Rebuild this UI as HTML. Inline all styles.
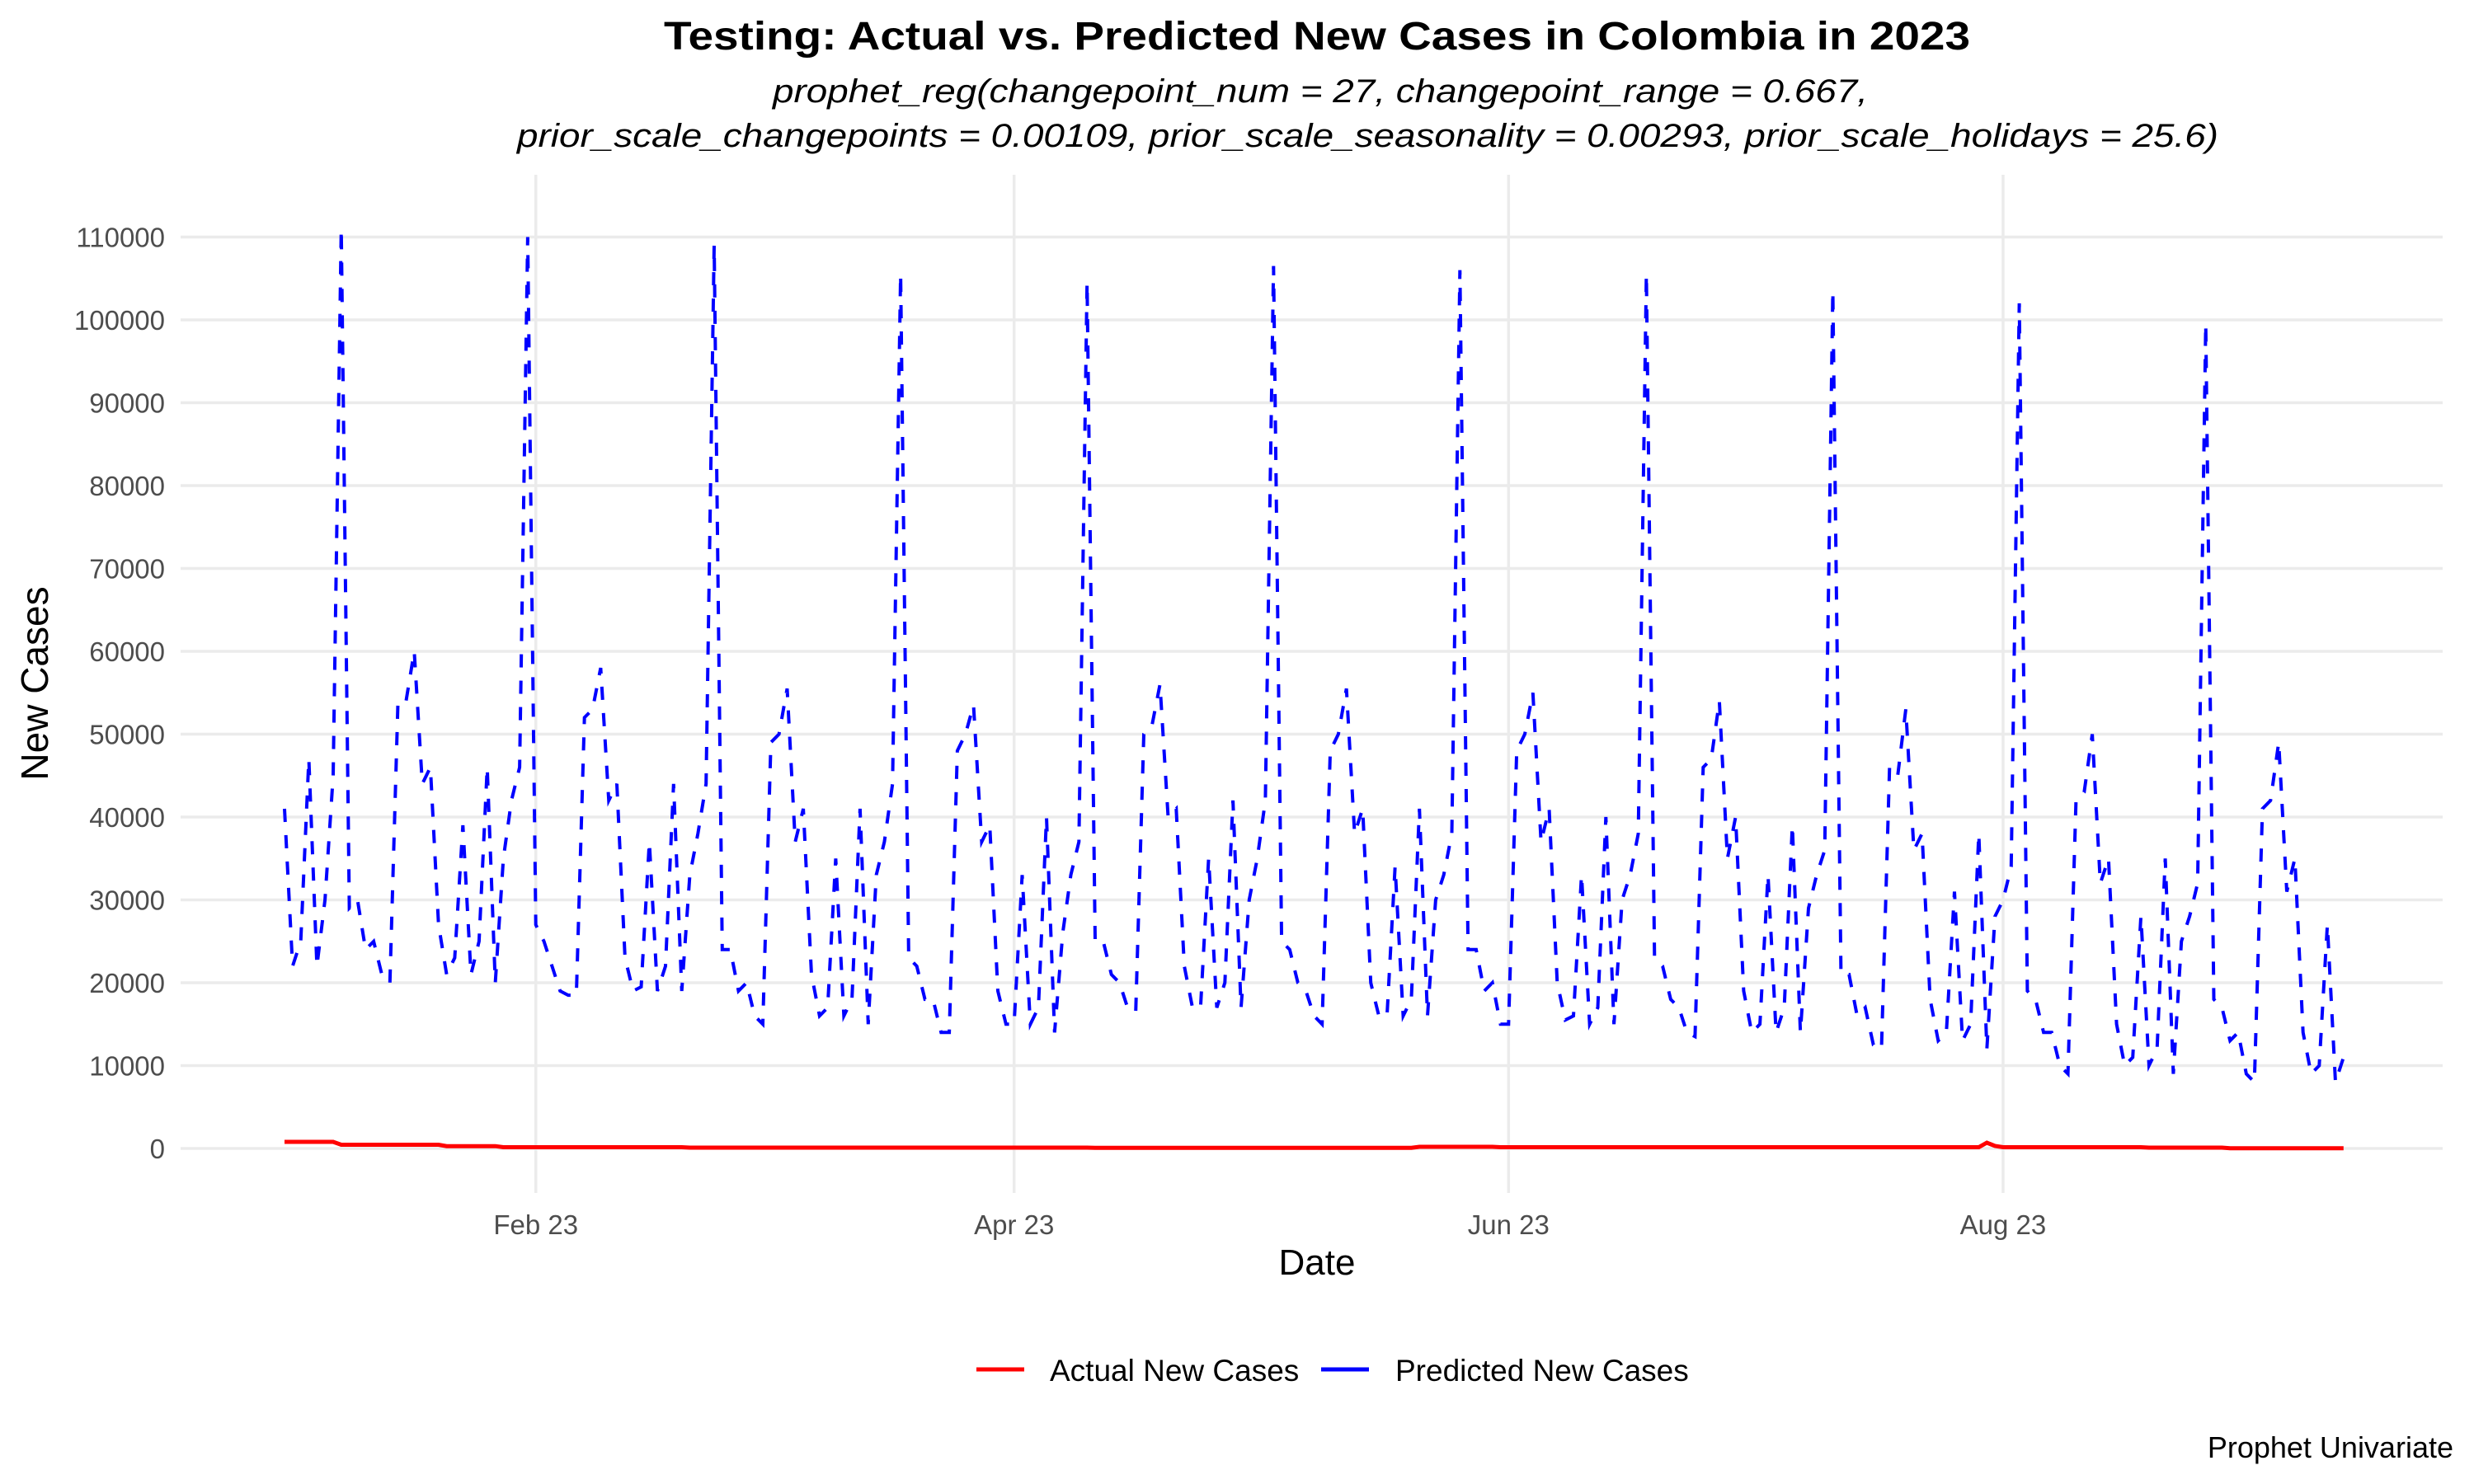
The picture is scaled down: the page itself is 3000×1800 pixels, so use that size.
<!DOCTYPE html>
<html><head><meta charset="utf-8"><style>
html,body{margin:0;padding:0;background:#fff;}
svg{display:block;font-family:"Liberation Sans",sans-serif;}
</style></head><body>
<svg id="chart" width="3000" height="1800" viewBox="0 0 3000 1800" xmlns="http://www.w3.org/2000/svg">
<rect width="3000" height="1800" fill="#fff"/>
<g id="grid"></g>
<g id="series"></g>
<g id="axes"></g>
<text x="1597" y="60" text-anchor="middle" font-size="48" font-weight="bold" fill="#000" textLength="1584" lengthAdjust="spacingAndGlyphs">Testing: Actual vs. Predicted New Cases in Colombia in 2023</text>
<text x="937" y="124" font-size="40" font-style="italic" fill="#000" textLength="1328" lengthAdjust="spacingAndGlyphs">prophet_reg(changepoint_num = 27, changepoint_range = 0.667,</text>
<text x="627" y="178" font-size="40" font-style="italic" fill="#000" textLength="2063" lengthAdjust="spacingAndGlyphs">prior_scale_changepoints = 0.00109, prior_scale_seasonality = 0.00293, prior_scale_holidays = 25.6)</text>
<text x="1597" y="1546" text-anchor="middle" font-size="44" fill="#000">Date</text>
<text transform="translate(58,829) rotate(-90)" text-anchor="middle" font-size="46" fill="#000">New Cases</text>
<g>
<g>
<line x1="1184" y1="1661" x2="1242" y2="1661" stroke="#ff0000" stroke-width="5"/>
<text x="1273" y="1675" font-size="37" fill="#000">Actual New Cases</text>
</g>
<g>
<line x1="1602" y1="1661" x2="1660" y2="1661" stroke="#0000ff" stroke-width="5"/>
<text x="1692" y="1675" font-size="37" fill="#000">Predicted New Cases</text>
</g>
</g>
<text x="2975" y="1768" text-anchor="end" font-size="36" fill="#000">Prophet Univariate</text>
</svg>
<script>
const yTicks = [0,10000,20000,30000,40000,50000,60000,70000,80000,90000,100000,110000];
const xTickLabels = ["Feb 23","Apr 23","Jun 23","Aug 23"];
const xTickDays = [31,90,151,212];
const predicted = [
41000,22000,25000,47000,22000,30000,45000,
111000,29000,30000,24000,25000,21000,20000,54000,54000,60000,44000,46000,27000,21000,23000,39000,21000,25000,46000,20000,35000,42000,46000,
110000,27000,25000,22000,19000,18500,18500,52000,53000,58000,42000,44000,23000,19000,19500,37000,19000,22000,44000,19000,33000,38000,44000,
109000,24000,24000,19000,20000,16000,15000,49000,50000,55500,37000,41000,21000,16000,17000,35000,16000,18000,41000,15000,33000,37000,44000,
105500,23000,22000,18000,18000,14000,14000,48000,50000,53500,37000,39000,19000,15000,15000,33000,15000,17000,40000,14000,26000,33000,37000,
104500,25000,25000,21000,20000,17000,16500,50000,51000,56000,40000,41000,22000,17000,17000,35000,17000,20000,42000,17000,30000,35000,42000,
106500,25000,24000,20000,19000,16000,15000,48000,50000,55500,38000,41000,20000,16000,16000,34000,16000,18000,41000,16000,30000,33000,38000,
106000,24000,24000,19000,20000,15000,15000,48000,50000,55000,37000,41000,20000,15500,16000,33000,15000,17000,40000,15000,30000,33000,38000,
105500,23000,22000,18000,17000,14000,13500,46000,47000,54000,35000,40000,19000,14000,15000,33000,14000,17000,39000,14000,29000,33000,36000,
103500,21000,21000,16000,17000,12500,12000,46000,45000,53000,36000,38000,18000,13000,14000,31000,13000,15000,38000,12000,28000,30000,34000,
102000,19000,18000,14000,14000,10000,9000,42000,43000,50000,32000,35000,15000,10000,11000,28000,10000,12000,35000,9000,25000,28000,32000,
99500,18000,17000,13000,14000,9000,8000,41000,42000,49000,31000,35000,14000,9000,10000,27000,8000,11000
];
const actual = [
800,800,800,800,800,800,800,
450,450,450,450,450,450,450,450,450,450,450,450,450,
280,280,280,280,280,280,280,
150,150,150,150,150,150,150,150,150,150,150,150,150,150,150,150,150,150,150,150,150,150,150,
100,100,100,100,100,100,100,100,100,100,100,100,100,100,100,100,100,100,100,100,100,100,100,100,100,
100,100,100,100,100,100,100,100,100,100,100,100,100,100,100,100,100,100,100,100,100,100,100,100,100,
80,80,80,80,80,80,80,80,80,80,80,80,80,80,80,80,80,80,80,80,
80,80,80,80,80,80,80,80,80,80,80,80,80,80,80,80,80,80,80,80,
200,200,200,200,200,200,200,200,200,200,
150,150,150,150,150,150,150,150,150,150,150,150,150,150,150,150,150,150,150,150,
150,150,150,150,150,150,150,150,150,150,150,150,150,150,150,150,150,150,150,150,
150,150,150,150,150,150,150,150,150,150,150,150,150,150,150,150,150,150,150,150,
700,300,
150,150,150,150,150,150,150,150,150,150,150,150,150,150,150,150,150,150,
100,100,100,100,100,100,100,100,100,100,
30,30,30,30,30,30,30,30,30,30,30,30,30,30,30
];
const NS='http://www.w3.org/2000/svg';
const X0=345, PXDAY=9.83, Y0=1393, PXVAL=0.01005;
function xScale(d){return X0+d*PXDAY;}
function yScale(v){return Y0-v*PXVAL;}
const grid=document.getElementById('grid'), axes=document.getElementById('axes'), series=document.getElementById('series');
yTicks.forEach(function(t){
  const y=yScale(t);
  const l=document.createElementNS(NS,'line');
  l.setAttribute('x1',219);l.setAttribute('x2',2962);l.setAttribute('y1',y);l.setAttribute('y2',y);
  l.setAttribute('stroke','#ebebeb');l.setAttribute('stroke-width','3.5');
  
  
  grid.appendChild(l);
  const tx=document.createElementNS(NS,'text');
  tx.setAttribute('x',200);tx.setAttribute('y',y+12);tx.setAttribute('text-anchor','end');
  tx.setAttribute('font-size','33');tx.setAttribute('fill','#4d4d4d');tx.textContent=String(t);
  
  
  axes.appendChild(tx);
});
xTickDays.forEach(function(d,i){
  const x=xScale(d);
  const l=document.createElementNS(NS,'line');
  l.setAttribute('x1',x);l.setAttribute('x2',x);l.setAttribute('y1',212);l.setAttribute('y2',1447);
  l.setAttribute('stroke','#ebebeb');l.setAttribute('stroke-width','3.5');
  
  
  grid.appendChild(l);
  const tx=document.createElementNS(NS,'text');
  tx.setAttribute('x',x);tx.setAttribute('y',1497);tx.setAttribute('text-anchor','middle');
  tx.setAttribute('font-size','33');tx.setAttribute('fill','#4d4d4d');tx.textContent=xTickLabels[i];
  
  
  axes.appendChild(tx);
});
function pathOf(arr){return arr.map(function(v,i){return (i?'L':'M')+xScale(i).toFixed(1)+','+yScale(v).toFixed(1);}).join('');}
const pa=document.createElementNS(NS,'path');
pa.setAttribute('d',pathOf(actual));pa.setAttribute('fill','none');pa.setAttribute('stroke','#ff0000');pa.setAttribute('stroke-width','5');


series.appendChild(pa);
const pp=document.createElementNS(NS,'path');
pp.setAttribute('d',pathOf(predicted));pp.setAttribute('fill','none');pp.setAttribute('stroke','#0000ff');pp.setAttribute('stroke-width','4');
pp.setAttribute('stroke-dasharray','16,16');


series.appendChild(pp);
</script>
</body></html>
